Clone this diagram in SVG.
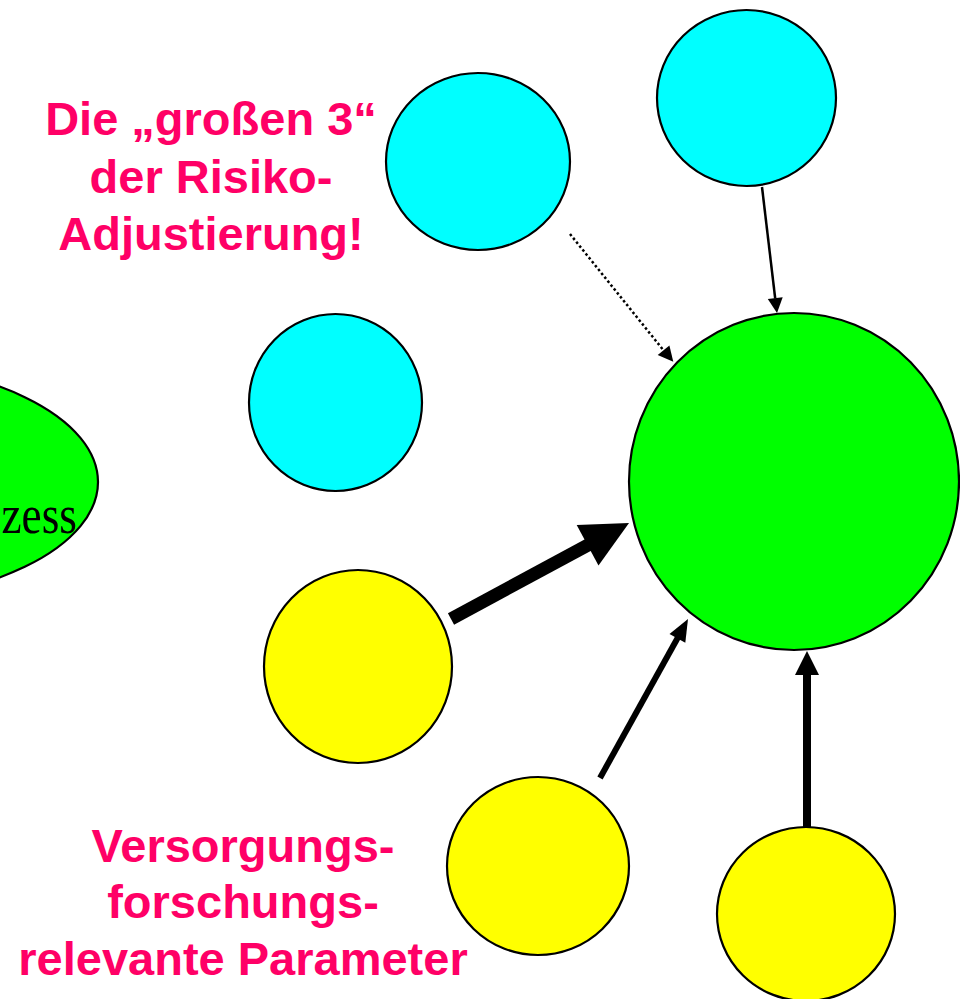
<svg xmlns="http://www.w3.org/2000/svg" width="960" height="999" viewBox="0 0 960 999">
<style>
.node{stroke:#000;stroke-width:2.2}
.cyan{fill:#00ffff}
.green{fill:#00ff00}
.yellow{fill:#ffff00}
.lbl{font-family:"Liberation Sans",Arial,sans-serif;font-weight:bold;font-size:47px;fill:#ff0066;text-anchor:middle}
.serif{font-family:"Liberation Serif","Times New Roman",serif;font-size:54px;fill:#000}
.shaft{stroke:#000;fill:none}
.head{fill:#000}
</style>
<rect width="960" height="999" fill="#fff"/>
<g id="node-process">
<ellipse class="node green" cx="-152" cy="482" rx="250" ry="120"/>
<text class="serif" transform="translate(77,533) scale(0.84,1)" x="0" y="0" text-anchor="end">zess</text>
</g>
<g id="node-cyan-top"><ellipse class="node cyan" cx="746.5" cy="98" rx="89.5" ry="88"/></g>
<g id="node-cyan-mid-top"><ellipse class="node cyan" cx="478" cy="161.5" rx="92" ry="88.5"/></g>
<g id="node-cyan-mid"><ellipse class="node cyan" cx="335.5" cy="402.5" rx="86.5" ry="88.5"/></g>
<g id="node-outcome"><ellipse class="node green" cx="794" cy="481.5" rx="165" ry="168.5"/></g>
<g id="node-yellow-left"><ellipse class="node yellow" cx="358" cy="666.5" rx="94" ry="96.5"/></g>
<g id="node-yellow-mid"><ellipse class="node yellow" cx="538" cy="866" rx="91" ry="89"/></g>
<g id="node-yellow-right"><ellipse class="node yellow" cx="806" cy="914" rx="89" ry="87"/></g>
<g id="label-top">
<text class="lbl" x="211" y="135">Die „großen 3“</text>
<text class="lbl" x="211" y="193">der Risiko-</text>
<text class="lbl" x="211" y="250">Adjustierung!</text>
</g>
<g id="label-bottom">
<text class="lbl" x="243" y="862">Versorgungs-</text>
<text class="lbl" x="243" y="918">forschungs-</text>
<text class="lbl" x="243" y="975">relevante Parameter</text>
</g>
<g id="connectors">
<line class="shaft" x1="570" y1="234" x2="663.5" y2="350.3" stroke-width="2.5" stroke-dasharray="2.5 2.5"/>
<polygon class="head" points="673.3,361.7 669.4,345.6 657.7,355"/>
<line class="shaft" x1="762" y1="187" x2="775.2" y2="298.5" stroke-width="2.5"/>
<polygon class="head" points="777,313 782.7,297.2 767.8,299"/>
<line class="shaft" x1="451" y1="619" x2="589" y2="544.5" stroke-width="13"/>
<polygon class="head" points="629,523 576.7,525 598.5,565.6"/>
<line class="shaft" x1="600" y1="778" x2="679" y2="635.5" stroke-width="6"/>
<polygon class="head" points="688,619 685.3,642.7 669.5,634"/>
<line class="shaft" x1="807" y1="827" x2="807" y2="673" stroke-width="8"/>
<polygon class="head" points="807,651 795,675 819,675"/>
</g>
</svg>
